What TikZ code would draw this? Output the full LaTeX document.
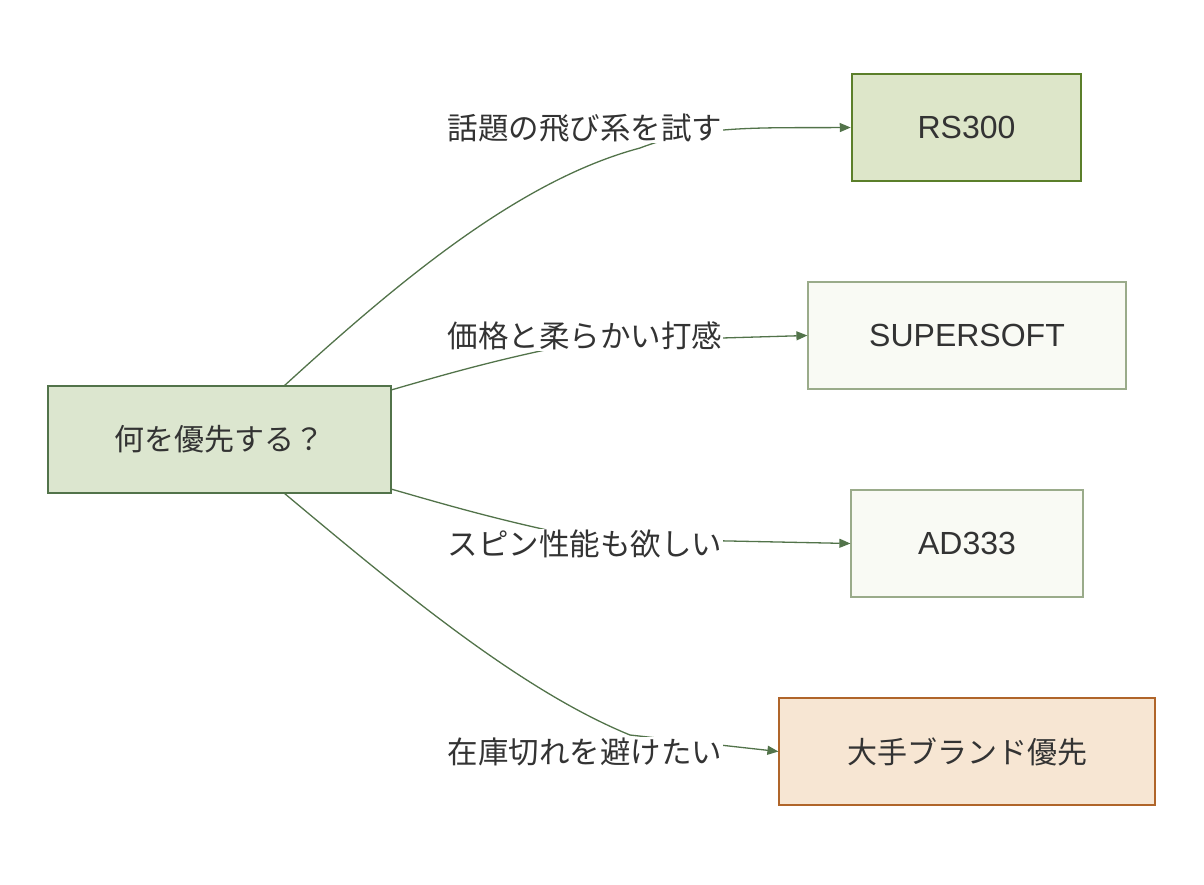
\documentclass[tikz,border=0pt]{standalone}
\usepackage{fontspec}
\setmainfont{Noto Sans CJK JP}
\newfontfamily\latfont{Liberation Sans}
\usetikzlibrary{arrows.meta, positioning}
\definecolor{edgegreen}{HTML}{52734A}
\definecolor{qfill}{HTML}{DCE6CF}
\definecolor{rsfill}{HTML}{DDE6C9}
\definecolor{rsline}{HTML}{5B7F2A}
\definecolor{pale}{HTML}{F9FAF4}
\definecolor{paleline}{HTML}{9AAB8A}
\definecolor{ofill}{HTML}{F7E6D3}
\definecolor{oline}{HTML}{B0652A}
\definecolor{txt}{HTML}{333333}
\tikzset{
  box/.style={draw, minimum height=107pt, text=txt, font=\fontsize{30}{36}\selectfont, line width=1.2pt},
  latbox/.style={box, font=\fontsize{32}{38}\latfont},
  lab/.style={fill=white, text=txt, font=\fontsize{30.5}{36}\selectfont, inner sep=1pt},
  edge/.style={draw=edgegreen, line width=1.3pt, -{Triangle[length=11pt,width=9pt]}}
}
\begin{document}
\begin{tikzpicture}[x=1pt, y=-1pt]
        \useasboundingbox (0,0) rectangle (1204,884);
        % 判断ノード
        \node[box, fill=qfill, draw=edgegreen, minimum width=343pt] (Q) at (219.5,439.5) {何を優先する？};
        % 候補
        \node[latbox, fill=rsfill, draw=rsline, line width=2.5pt, minimum width=229pt] (RS) at (966.5,127.5) {RS300};
        \node[latbox, fill=pale, draw=paleline, minimum width=318pt] (SS) at (967,335.5) {SUPERSOFT};
        \node[latbox, fill=pale, draw=paleline, minimum width=232pt] (AD) at (967,543.5) {AD333};
        \node[box, fill=ofill, draw=oline, minimum width=376pt] (BR) at (967,751.5) {大手ブランド優先};
        
        % 枝
        \coordinate (q1) at (284,386); \coordinate (q2) at (391,390);
        \coordinate (q3) at (391,489); \coordinate (q4) at (284,493);
        \coordinate (m1) at (640,148); \coordinate (m2) at (585,342);
        \coordinate (m3) at (585,538); \coordinate (m4) at (630,735);
        \draw[edge] (q1) .. controls (400,280) and (520,180) .. (m1) .. controls (700,125) and (760,128) .. (RS.west);
        \draw[edge] (q2) .. controls (440,376) and (500,358) .. (m2) -- (SS.west);
        \draw[edge] (q3) .. controls (440,503) and (500,521) .. (m3) -- (AD.west);
        \draw[edge] (q4) .. controls (400,590) and (520,690) .. (m4) -- (BR.west);
        
        % ラベル
        \node[lab] (L1) at (585,128) {話題の飛び系を試す};
        \node[lab] (L2) at (585,336) {価格と柔らかい打感};
        \node[lab] (L3) at (585,544) {スピン性能も欲しい};
        \node[lab] (L4) at (585,752) {在庫切れを避けたい};
\end{tikzpicture}
\end{document}
